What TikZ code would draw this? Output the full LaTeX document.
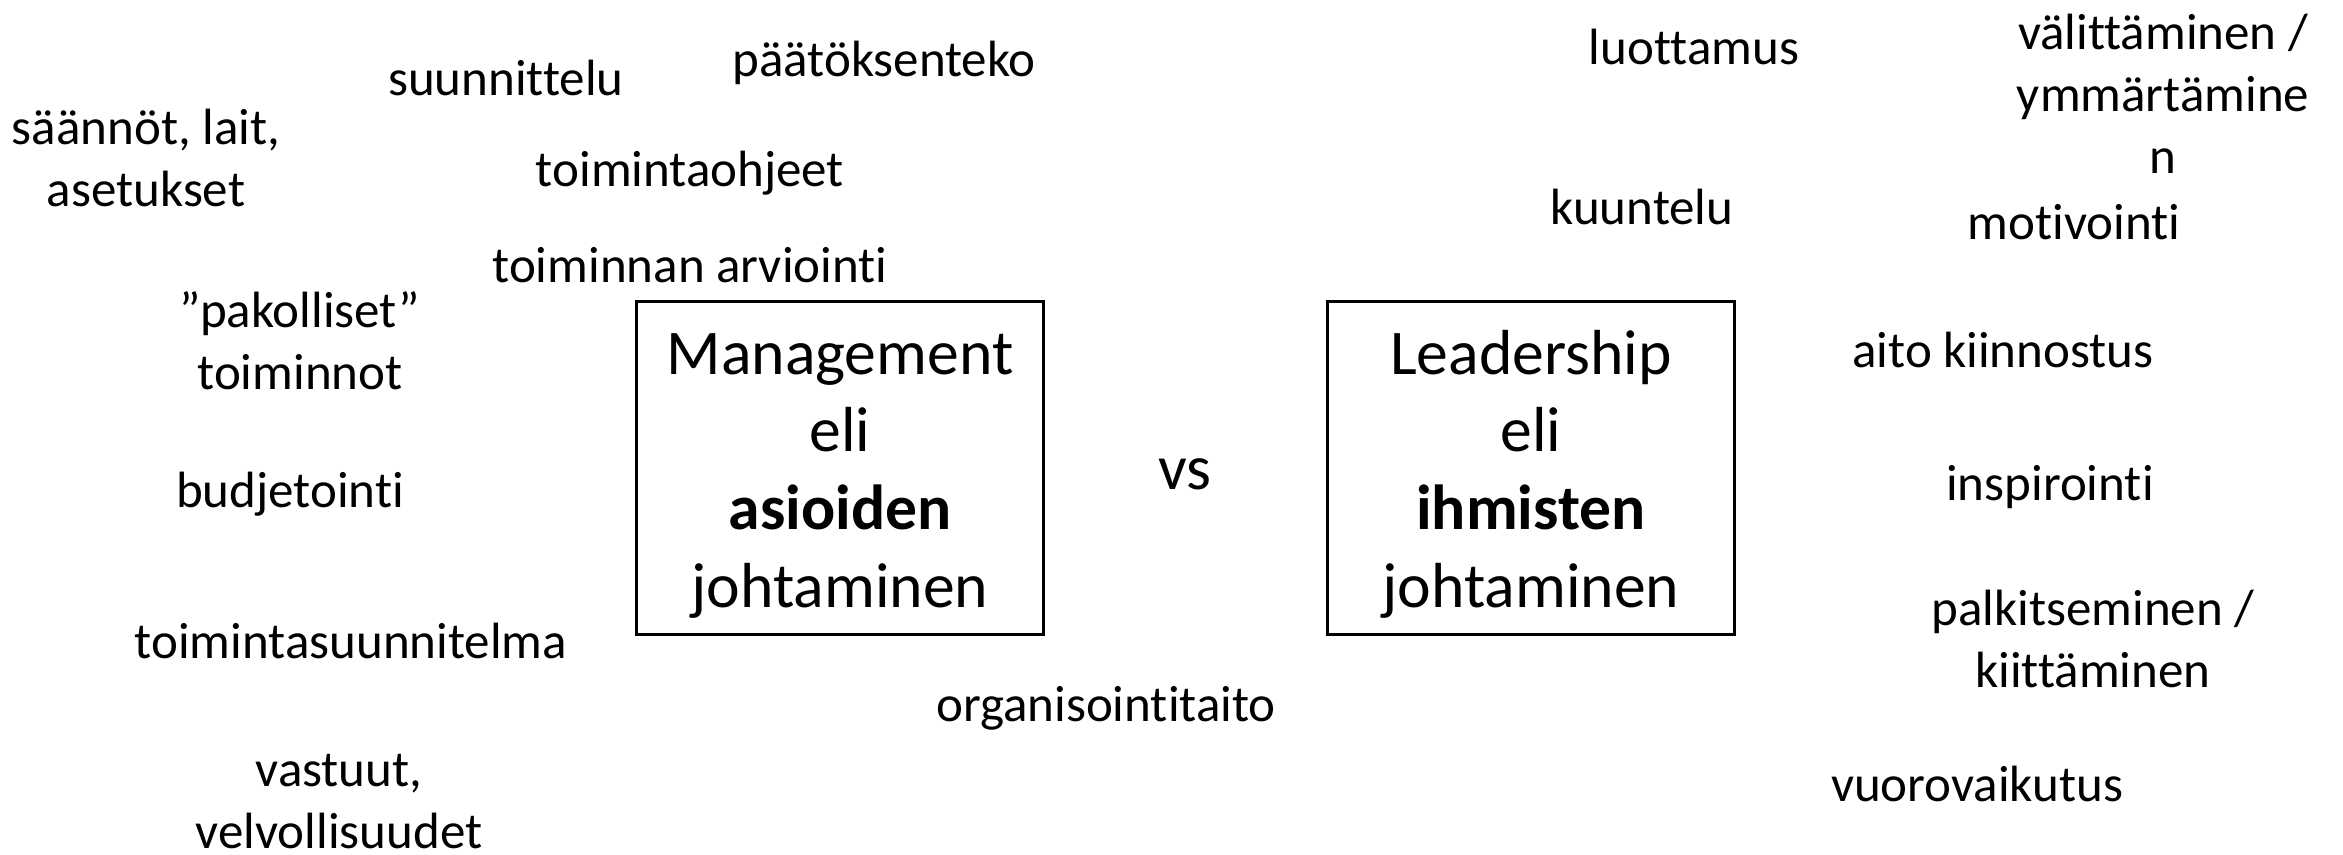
\documentclass[tikz,border=0pt]{standalone}
\usepackage{fontspec}
\setmainfont{Carlito}[Ligatures=NoCommon]
\usetikzlibrary{positioning}
\newcommand{\boxtop}{\rule{0pt}{16pt}}

\begin{document}
\begin{tikzpicture}[
      x=0.01cm, y=-0.01cm,
      word/.style={
        inner sep=0pt,
        align=center,
        font=\fontsize{14.5}{17.6}\selectfont
      },
      bigbox/.style={
        draw,
        line width=0.8pt,
        minimum width=4.06cm,
        minimum height=3.32cm,
        align=center,
        font=\fontsize{18.1}{22.1}\selectfont
      }
      ]
      \useasboundingbox (0,0) rectangle (2343,855);

      % asioiden johtaminen
      \node[bigbox] (mgmt) at (840,468) {\boxtop Management\\eli\\\textbf{asioiden}\\johtaminen};
      \node[word] (saannot) at (146,158) {säännöt, lait,\\asetukset};
      \node[word] (suunn) at (506,78) {suunnittelu};
      \node[word] (paatos) at (884,63) {päätöksenteko};
      \node[word] (ohjeet) at (690,173) {toimintaohjeet};
      \node[word] (arvio) at (690,265) {toiminnan arviointi};
      \node[word] (pakoll) at (300,341) {”pakolliset”\\toiminnot};
      \node[word] (budjetti) at (290,494) {budjetointi};
      \node[word] (tsuunn) at (351,641) {toimintasuunnitelma};
      \node[word] (vastuut) at (339,802) {vastuut,\\velvollisuudet};
      \node[word] (organ) at (1106,708) {organisointitaito};

      \node[word, font=\fontsize{18.1}{22.1}\selectfont] (vs) at (1185,474) {vs};

      % ihmisten johtaminen
      \node[bigbox] (lead) at (1531,468) {\boxtop Leadership\\eli\\\textbf{ihmisten}\\johtaminen};
      \node[word] (luott) at (1694,47) {luottamus};
      \node[word] (kuunt) at (1642,207) {kuuntelu};
      \node[word] (valitt) at (2163,94) {välittäminen /\\ymmärtämine\\n};
      \node[word] (motiv) at (2074,222) {motivointi};
      \node[word] (aito) at (2003,350) {aito kiinnostus};
      \node[word] (inspi) at (2050,487) {inspirointi};
      \node[word] (palkit) at (2093,639) {palkitseminen /\\kiittäminen};
      \node[word] (vuoro) at (1977,784) {vuorovaikutus};
\end{tikzpicture}
\end{document}
